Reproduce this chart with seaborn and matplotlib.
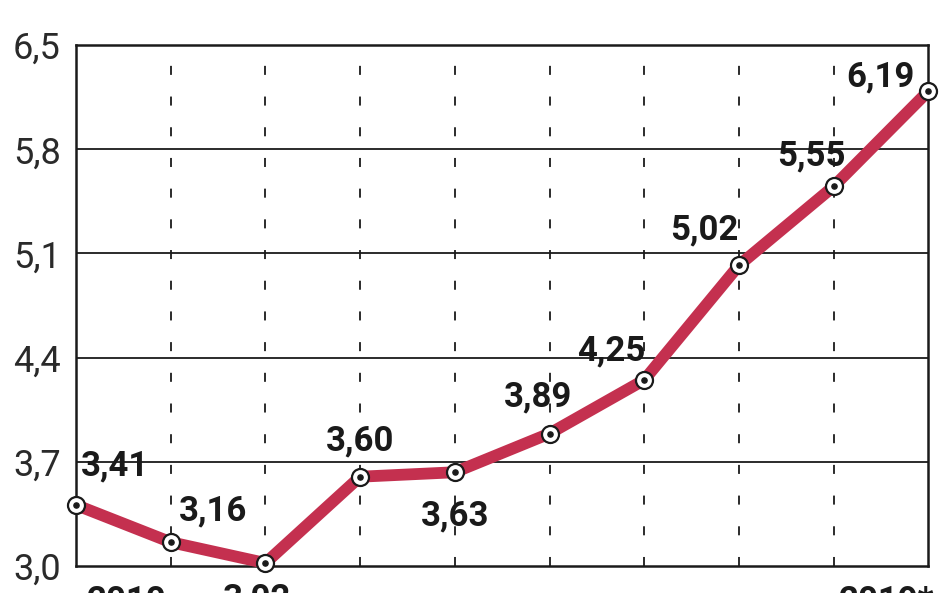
import pandas as pd
import matplotlib.pyplot as plt
import seaborn as sns


# Values
years = ['2010', '2011', '2012', '2013', '2014', '2015', '2016', '2017', '2018', '2019*']
values = [3.41, 3.16, 3.02, 3.60, 3.63, 3.89, 4.25, 5.02, 5.55, 6.19]
y_ticks = [3.0, 3.7, 4.4, 5.1, 5.8, 6.5]

df = pd.DataFrame({'pos': range(len(years)), 'year': years, 'value': values})

# label offsets in pixels (dx, dy) relative to each point
offsets = [(39, 39), (42, 31), (-8, -36), (0, 36), (0, -44),
           (-12, 37), (-33, 29), (-35, 35), (-22, 31), (-48, 14)]

sns.set_style('white')
plt.rcParams['font.family'] = ['Roboto', 'DejaVu Sans']

fig = plt.figure(figsize=(9.48, 5.93), dpi=100)
ax = fig.add_axes([0.0802, 0.0455, 0.899, 0.8785])

line_col = '#c4304f'

# grid lines
for y in y_ticks[1:-1]:
    ax.axhline(y, color='#1a1a1a', lw=1.3, zorder=1)
for x in range(1, len(years) - 1):
    ax.axvline(x, color='#1a1a1a', lw=1.3, linestyle=(0, (5, 12)), zorder=1)

sns.lineplot(data=df, x='pos', y='value', color=line_col, lw=8.5, ax=ax,
             zorder=3, clip_on=False)
ax.scatter(df['pos'], df['value'], s=150, facecolor='white', edgecolor='#1a1a1a',
           linewidth=1.6, zorder=4, clip_on=False)
ax.scatter(df['pos'], df['value'], s=14, color='#1a1a1a', zorder=5, clip_on=False)

for (x, v), (dx, dy) in zip(zip(df['pos'], df['value']), offsets):
    ax.annotate(f'{v:.2f}'.replace('.', ','), (x, v), xytext=(dx, dy),
                textcoords='offset pixels', ha='center', va='center',
                fontsize=25, fontweight='bold',
                color='#1a1a1a', zorder=6, annotation_clip=False)

ax.set_xlim(0, len(years) - 1)
ax.set_ylim(3.0, 6.5)
ax.set_yticks(y_ticks)
ax.set_yticklabels([f'{t:.1f}'.replace('.', ',') for t in y_ticks],
                   fontsize=26, color='#2a2a2a')
ax.tick_params(axis='y', length=0, pad=11)
ax.set_xticks([])
ax.set_xlabel('')
ax.set_ylabel('')
for s in ax.spines.values():
    s.set_color('#1a1a1a')
    s.set_linewidth(1.8)

# year labels, cut off by the bottom edge of the picture
ax.annotate(years[0], (0, 3.0), xytext=(51, -35), textcoords='offset pixels',
            ha='center', va='center', fontsize=25, fontweight='bold',
            color='#1a1a1a', annotation_clip=False)
ax.annotate(years[-1], (len(years) - 1, 3.0), xytext=(6, -35), textcoords='offset pixels',
            ha='right', va='center', fontsize=25, fontweight='bold',
            color='#1a1a1a', annotation_clip=False)

fig.savefig('out.png', dpi=100)
